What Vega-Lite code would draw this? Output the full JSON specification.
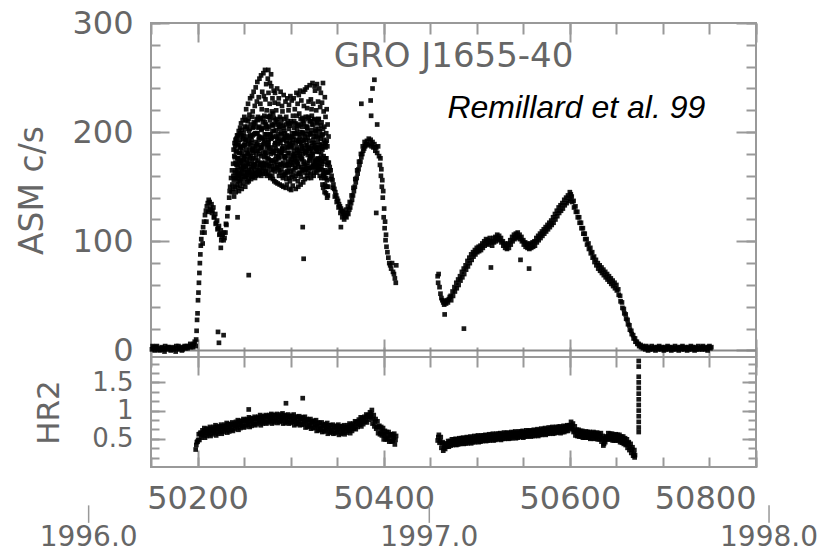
{
"$schema": "https://vega.github.io/schema/vega-lite/v6.json",
"background": "white",
"padding": {"left": 15, "top": 6, "right": 5, "bottom": 0},
"spacing": 0,
"bounds": "flush",
"datasets": {
"years": [{"label":"1996.0","mjd":50083},{"label":"1997.0","mjd":50449},{"label":"1998.0","mjd":50814}],
"asm": [
{"t":50151,"c":1},{"t":50151.7,"c":4},{"t":50152.5,"c":2},{"t":50153.2,"c":3},{"t":50154,"c":0},{"t":50155.5,"c":3},{"t":50156.3,"c":4},{"t":50157,"c":1},{"t":50158.5,"c":2},{"t":50159.2,"c":0},{"t":50160,"c":1},{"t":50161.5,"c":3},{"t":50162.2,"c":1},{"t":50163,"c":2},{"t":50164.5,"c":-1},{"t":50165.2,"c":4},{"t":50166,"c":2},{"t":50167.5,"c":1},{"t":50168.2,"c":3},{"t":50169,"c":3},{"t":50170.5,"c":2},{"t":50171.2,"c":0},{"t":50172,"c":1},{"t":50173.5,"c":3},{"t":50174.2,"c":1},{"t":50175,"c":2},{"t":50176.5,"c":-1},{"t":50177.2,"c":4},{"t":50178,"c":2},{"t":50179.5,"c":4},{"t":50180.2,"c":1},{"t":50181,"c":2},{"t":50182.5,"c":3},{"t":50183.2,"c":0},{"t":50184,"c":1},{"t":50185.5,"c":3},{"t":50186.2,"c":4},{"t":50187,"c":2},{"t":50188.5,"c":4},{"t":50189.2,"c":2},{"t":50190,"c":3},{"t":50191.5,"c":4},{"t":50192.2,"c":6},{"t":50193,"c":3},{"t":50194.5,"c":5},{"t":50195.2,"c":3},{"t":50196,"c":6},{"t":50197,"c":8},
{"t":50198,"c":4},{"t":50198.5,"c":10},{"t":50199,"c":18},{"t":50199.5,"c":28},{"t":50200,"c":34},{"t":50200.5,"c":46},{"t":50201,"c":53},{"t":50201.5,"c":62},{"t":50202,"c":71},{"t":50202.5,"c":80},{"t":50203,"c":88},{"t":50203.5,"c":96},{"t":50204,"c":102},{"t":50205,"c":108},{"t":50205.5,"c":98},{"t":50206,"c":113},{"t":50207,"c":118},{"t":50207.5,"c":108},{"t":50208,"c":124},{"t":50209,"c":128},{"t":50209.5,"c":118},{"t":50210,"c":132},{"t":50211,"c":135},{"t":50211.5,"c":127},{"t":50212,"c":138},{"t":50213,"c":136},{"t":50213.5,"c":129},{"t":50214,"c":130},{"t":50215,"c":134},{"t":50215.5,"c":126},{"t":50216,"c":128},{"t":50217,"c":131},{"t":50217.5,"c":122},{"t":50218,"c":122},{"t":50219,"c":125},{"t":50219.5,"c":116},{"t":50220,"c":117},{"t":50221,"c":119},{"t":50221.5,"c":111},{"t":50222,"c":112},{"t":50223,"c":114},{"t":50223.5,"c":106},{"t":50224,"c":107},{"t":50225,"c":110},{"t":50225.5,"c":101},{"t":50226,"c":104},{"t":50227,"c":106},{"t":50228,"c":101},{"t":50228.5,"c":108},{"t":50229,"c":103},{"t":50230,"c":108},{"t":50230.5,"c":116},{"t":50231,"c":115},{"t":50232,"c":123},{"t":50232.5,"c":130},{"t":50233,"c":131},{"t":50234,"c":140},{"t":50234.5,"c":146},{"t":50235,"c":150},{"t":50236,"c":158},{"t":50236.5,"c":145},{"t":50237,"c":165},{"t":50237.5,"c":152},
{"t":50222,"c":17},{"t":50228,"c":14},{"t":50223,"c":7},{"t":50225,"c":94},{"t":50243,"c":122},{"t":50255,"c":69},{"t":50313,"c":113},{"t":50314,"c":84},{"t":50354,"c":113},{"t":50276,"c":257},{"t":50279,"c":253},
{"t":50238,"c":148},{"t":50238.25,"c":171},{"t":50238.5,"c":160},{"t":50238.75,"c":184},
{"t":50239,"c":156},{"t":50239.25,"c":141},{"t":50239.5,"c":178},{"t":50239.75,"c":190},
{"t":50240,"c":163},{"t":50240.25,"c":150},{"t":50240.5,"c":187},{"t":50240.75,"c":172},
{"t":50241,"c":145},{"t":50241.25,"c":182},{"t":50241.5,"c":158},{"t":50241.75,"c":194},
{"t":50242,"c":170},{"t":50242.25,"c":152},{"t":50242.5,"c":197},{"t":50242.75,"c":165},
{"t":50243,"c":149},{"t":50243.25,"c":188},{"t":50243.5,"c":176},{"t":50243.75,"c":160},
{"t":50244,"c":158},{"t":50244.25,"c":201},{"t":50244.5,"c":146},{"t":50244.75,"c":181},
{"t":50245,"c":175},{"t":50245.25,"c":155},{"t":50245.5,"c":193},{"t":50245.75,"c":204},
{"t":50246,"c":151},{"t":50246.25,"c":186},{"t":50246.5,"c":167},{"t":50246.75,"c":208},
{"t":50247,"c":162},{"t":50247.25,"c":197},{"t":50247.5,"c":148},{"t":50247.75,"c":179},
{"t":50248,"c":183},{"t":50248.25,"c":159},{"t":50248.5,"c":211},{"t":50248.75,"c":170},
{"t":50249,"c":153},{"t":50249.25,"c":174},{"t":50249.5,"c":199},{"t":50249.75,"c":188},
{"t":50250,"c":166},{"t":50250.25,"c":214},{"t":50250.5,"c":157},{"t":50250.75,"c":192},
{"t":50251,"c":178},{"t":50251.25,"c":150},{"t":50251.5,"c":203},{"t":50251.75,"c":169},
{"t":50252,"c":159},{"t":50252.25,"c":221},{"t":50252.5,"c":184},{"t":50252.75,"c":172},
{"t":50253,"c":196},{"t":50253.25,"c":163},{"t":50253.5,"c":154},{"t":50253.75,"c":210},
{"t":50254,"c":171},{"t":50254.25,"c":226},{"t":50254.5,"c":189},{"t":50254.75,"c":158},
{"t":50255,"c":155},{"t":50255.25,"c":201},{"t":50255.5,"c":180},{"t":50255.75,"c":216},
{"t":50256,"c":184},{"t":50256.25,"c":162},{"t":50256.5,"c":231},{"t":50256.75,"c":197},
{"t":50257,"c":168},{"t":50257.25,"c":207},{"t":50257.5,"c":157},{"t":50257.75,"c":190},
{"t":50258,"c":193},{"t":50258.25,"c":174},{"t":50258.5,"c":233},{"t":50258.75,"c":160},
{"t":50259,"c":159},{"t":50259.25,"c":219},{"t":50259.5,"c":185},{"t":50259.75,"c":204},
{"t":50260,"c":176},{"t":50260.25,"c":237},{"t":50260.5,"c":162},{"t":50260.75,"c":198},
{"t":50261,"c":205},{"t":50261.25,"c":171},{"t":50261.5,"c":224},{"t":50261.75,"c":158},
{"t":50262,"c":163},{"t":50262.25,"c":191},{"t":50262.5,"c":241},{"t":50262.75,"c":180},
{"t":50263,"c":187},{"t":50263.25,"c":160},{"t":50263.5,"c":212},{"t":50263.75,"c":228},
{"t":50264,"c":172},{"t":50264.25,"c":246},{"t":50264.5,"c":199},{"t":50264.75,"c":165},
{"t":50265,"c":214},{"t":50265.25,"c":183},{"t":50265.5,"c":161},{"t":50265.75,"c":232},
{"t":50266,"c":164},{"t":50266.25,"c":205},{"t":50266.5,"c":249},{"t":50266.75,"c":188},
{"t":50267,"c":195},{"t":50267.25,"c":170},{"t":50267.5,"c":226},{"t":50267.75,"c":212},
{"t":50268,"c":178},{"t":50268.25,"c":252},{"t":50268.5,"c":160},{"t":50268.75,"c":203},
{"t":50269,"c":221},{"t":50269.25,"c":186},{"t":50269.5,"c":237},{"t":50269.75,"c":167},
{"t":50270,"c":162},{"t":50270.25,"c":209},{"t":50270.5,"c":194},{"t":50270.75,"c":254},
{"t":50271,"c":189},{"t":50271.25,"c":233},{"t":50271.5,"c":171},{"t":50271.75,"c":215},
{"t":50272,"c":170},{"t":50272.25,"c":198},{"t":50272.5,"c":257},{"t":50272.75,"c":182},
{"t":50273,"c":230},{"t":50273.25,"c":164},{"t":50273.5,"c":207},{"t":50273.75,"c":244},
{"t":50274,"c":181},{"t":50274.25,"c":220},{"t":50274.5,"c":160},{"t":50274.75,"c":196},
{"t":50275,"c":203},{"t":50275.25,"c":176},{"t":50275.5,"c":249},{"t":50275.75,"c":188},
{"t":50276,"c":162},{"t":50276.25,"c":236},{"t":50276.5,"c":193},{"t":50276.75,"c":214},
{"t":50277,"c":185},{"t":50277.25,"c":169},{"t":50277.5,"c":226},{"t":50277.75,"c":245},
{"t":50278,"c":211},{"t":50278.25,"c":158},{"t":50278.5,"c":198},{"t":50278.75,"c":180},
{"t":50279,"c":174},{"t":50279.25,"c":242},{"t":50279.5,"c":165},{"t":50279.75,"c":219},
{"t":50280,"c":195},{"t":50280.25,"c":160},{"t":50280.5,"c":231},{"t":50280.75,"c":206},
{"t":50281,"c":157},{"t":50281.25,"c":217},{"t":50281.5,"c":183},{"t":50281.75,"c":238},
{"t":50282,"c":201},{"t":50282.25,"c":172},{"t":50282.5,"c":155},{"t":50282.75,"c":227},
{"t":50283,"c":168},{"t":50283.25,"c":236},{"t":50283.5,"c":190},{"t":50283.75,"c":211},
{"t":50284,"c":185},{"t":50284.25,"c":154},{"t":50284.5,"c":220},{"t":50284.75,"c":173},
{"t":50285,"c":209},{"t":50285.25,"c":167},{"t":50285.5,"c":240},{"t":50285.75,"c":194},
{"t":50286,"c":153},{"t":50286.25,"c":198},{"t":50286.5,"c":178},{"t":50286.75,"c":226},
{"t":50287,"c":176},{"t":50287.25,"c":231},{"t":50287.5,"c":160},{"t":50287.75,"c":205},
{"t":50288,"c":192},{"t":50288.25,"c":152},{"t":50288.5,"c":214},{"t":50288.75,"c":183},
{"t":50289,"c":163},{"t":50289.25,"c":237},{"t":50289.5,"c":199},{"t":50289.75,"c":171},
{"t":50290,"c":208},{"t":50290.25,"c":181},{"t":50290.5,"c":151},{"t":50290.75,"c":224},
{"t":50291,"c":170},{"t":50291.25,"c":219},{"t":50291.5,"c":193},{"t":50291.75,"c":158},
{"t":50292,"c":187},{"t":50292.25,"c":150},{"t":50292.5,"c":234},{"t":50292.75,"c":204},
{"t":50293,"c":161},{"t":50293.25,"c":212},{"t":50293.5,"c":177},{"t":50293.75,"c":196},
{"t":50294,"c":199},{"t":50294.25,"c":169},{"t":50294.5,"c":228},{"t":50294.75,"c":149},
{"t":50295,"c":178},{"t":50295.25,"c":214},{"t":50295.5,"c":157},{"t":50295.75,"c":190},
{"t":50296,"c":152},{"t":50296.25,"c":197},{"t":50296.5,"c":231},{"t":50296.75,"c":171},
{"t":50297,"c":186},{"t":50297.25,"c":163},{"t":50297.5,"c":208},{"t":50297.75,"c":220},
{"t":50298,"c":167},{"t":50298.25,"c":225},{"t":50298.5,"c":181},{"t":50298.75,"c":148},
{"t":50299,"c":206},{"t":50299.25,"c":155},{"t":50299.5,"c":192},{"t":50299.75,"c":233},
{"t":50300,"c":173},{"t":50300.25,"c":210},{"t":50300.5,"c":147},{"t":50300.75,"c":188},
{"t":50301,"c":159},{"t":50301.25,"c":229},{"t":50301.5,"c":196},{"t":50301.75,"c":170},
{"t":50302,"c":190},{"t":50302.25,"c":151},{"t":50302.5,"c":215},{"t":50302.75,"c":179},
{"t":50303,"c":165},{"t":50303.25,"c":231},{"t":50303.5,"c":183},{"t":50303.75,"c":204},
{"t":50304,"c":199},{"t":50304.25,"c":157},{"t":50304.5,"c":221},{"t":50304.75,"c":174},
{"t":50305,"c":178},{"t":50305.25,"c":208},{"t":50305.5,"c":148},{"t":50305.75,"c":193},
{"t":50306,"c":160},{"t":50306.25,"c":236},{"t":50306.5,"c":186},{"t":50306.75,"c":215},
{"t":50307,"c":203},{"t":50307.25,"c":172},{"t":50307.5,"c":226},{"t":50307.75,"c":155},
{"t":50308,"c":181},{"t":50308.25,"c":150},{"t":50308.5,"c":198},{"t":50308.75,"c":234},
{"t":50309,"c":168},{"t":50309.25,"c":217},{"t":50309.5,"c":162},{"t":50309.75,"c":191},
{"t":50310,"c":196},{"t":50310.25,"c":238},{"t":50310.5,"c":176},{"t":50310.75,"c":152},
{"t":50311,"c":159},{"t":50311.25,"c":207},{"t":50311.5,"c":229},{"t":50311.75,"c":185},
{"t":50312,"c":187},{"t":50312.25,"c":165},{"t":50312.5,"c":213},{"t":50312.75,"c":200},
{"t":50313,"c":210},{"t":50313.25,"c":180},{"t":50313.5,"c":154},{"t":50313.75,"c":237},
{"t":50314,"c":171},{"t":50314.25,"c":224},{"t":50314.5,"c":192},{"t":50314.75,"c":163},
{"t":50315,"c":198},{"t":50315.25,"c":157},{"t":50315.5,"c":239},{"t":50315.75,"c":182},
{"t":50316,"c":166},{"t":50316.25,"c":214},{"t":50316.5,"c":188},{"t":50316.75,"c":205},
{"t":50317,"c":183},{"t":50317.25,"c":241},{"t":50317.5,"c":160},{"t":50317.75,"c":222},
{"t":50318,"c":204},{"t":50318.25,"c":172},{"t":50318.5,"c":195},{"t":50318.75,"c":158},
{"t":50319,"c":163},{"t":50319.25,"c":228},{"t":50319.5,"c":185},{"t":50319.75,"c":213},
{"t":50320,"c":192},{"t":50320.25,"c":167},{"t":50320.5,"c":243},{"t":50320.75,"c":178},
{"t":50321,"c":176},{"t":50321.25,"c":210},{"t":50321.5,"c":162},{"t":50321.75,"c":230},
{"t":50322,"c":158},{"t":50322.25,"c":199},{"t":50322.5,"c":221},{"t":50322.75,"c":187},
{"t":50323,"c":207},{"t":50323.25,"c":181},{"t":50323.5,"c":245},{"t":50323.75,"c":169},
{"t":50324,"c":172},{"t":50324.25,"c":226},{"t":50324.5,"c":193},{"t":50324.75,"c":160},
{"t":50325,"c":190},{"t":50325.25,"c":163},{"t":50325.5,"c":212},{"t":50325.75,"c":242},
{"t":50326,"c":168},{"t":50326.25,"c":238},{"t":50326.5,"c":186},{"t":50326.75,"c":201},
{"t":50327,"c":199},{"t":50327.25,"c":174},{"t":50327.5,"c":220},{"t":50327.75,"c":163},
{"t":50328,"c":182},{"t":50328.25,"c":244},{"t":50328.5,"c":170},{"t":50328.75,"c":208},
{"t":50329,"c":165},{"t":50329.25,"c":191},{"t":50329.5,"c":228},{"t":50329.75,"c":176},
{"t":50330,"c":186},{"t":50330.25,"c":212},{"t":50330.5,"c":168},{"t":50330.75,"c":240},
{"t":50331,"c":175},{"t":50331.25,"c":160},{"t":50331.5,"c":201},{"t":50331.75,"c":223},
{"t":50332,"c":166},{"t":50332.25,"c":194},{"t":50332.5,"c":236},{"t":50332.75,"c":180},
{"t":50333,"c":158},{"t":50333.25,"c":209},{"t":50333.5,"c":174},{"t":50333.75,"c":227},
{"t":50334,"c":171},{"t":50334.25,"c":152},{"t":50334.5,"c":198},{"t":50334.75,"c":245},
{"t":50335,"c":149},{"t":50335.25,"c":187},{"t":50335.5,"c":219},{"t":50335.75,"c":162},
{"t":50336,"c":160},{"t":50336.25,"c":205},{"t":50336.5,"c":145},{"t":50336.75,"c":232},
{"t":50337,"c":152},{"t":50337.25,"c":176},{"t":50337.5,"c":214},{"t":50337.75,"c":190},
{"t":50338,"c":144},{"t":50338.25,"c":199},{"t":50338.5,"c":163},{"t":50338.75,"c":221},
{"t":50339,"c":156},{"t":50339.25,"c":140},{"t":50339.5,"c":187},{"t":50339.75,"c":207},
{"t":50340,"c":142},{"t":50340.25,"c":172},{"t":50340.5,"c":150},{"t":50340.75,"c":196},
{"t":50240.12,"c":177},{"t":50240.45,"c":158},{"t":50240.8,"c":193},
{"t":50241.12,"c":165},{"t":50241.45,"c":189},{"t":50241.8,"c":171},
{"t":50242.12,"c":183},{"t":50242.45,"c":161},{"t":50242.8,"c":176},
{"t":50243.12,"c":168},{"t":50243.45,"c":197},{"t":50243.8,"c":155},
{"t":50244.12,"c":190},{"t":50244.45,"c":172},{"t":50244.8,"c":163},
{"t":50245.12,"c":161},{"t":50245.45,"c":181},{"t":50245.8,"c":199},
{"t":50246.12,"c":186},{"t":50246.45,"c":157},{"t":50246.8,"c":174},
{"t":50247.12,"c":171},{"t":50247.45,"c":202},{"t":50247.8,"c":166},
{"t":50248.12,"c":163},{"t":50248.45,"c":187},{"t":50248.8,"c":196},
{"t":50249.12,"c":194},{"t":50249.45,"c":168},{"t":50249.8,"c":178},
{"t":50250.12,"c":175},{"t":50250.45,"c":160},{"t":50250.8,"c":205},
{"t":50251.12,"c":188},{"t":50251.45,"c":211},{"t":50251.8,"c":163},
{"t":50252.12,"c":168},{"t":50252.45,"c":193},{"t":50252.8,"c":181},
{"t":50253.12,"c":205},{"t":50253.45,"c":175},{"t":50253.8,"c":161},
{"t":50254.12,"c":180},{"t":50254.45,"c":164},{"t":50254.8,"c":212},
{"t":50255.12,"c":165},{"t":50255.45,"c":192},{"t":50255.8,"c":176},
{"t":50256.12,"c":203},{"t":50256.45,"c":171},{"t":50256.8,"c":188},
{"t":50257.12,"c":178},{"t":50257.45,"c":196},{"t":50257.8,"c":163},
{"t":50258.12,"c":166},{"t":50258.45,"c":184},{"t":50258.8,"c":214},
{"t":50259.12,"c":197},{"t":50259.45,"c":170},{"t":50259.8,"c":181},
{"t":50260.12,"c":183},{"t":50260.45,"c":209},{"t":50260.8,"c":167},
{"t":50261.12,"c":170},{"t":50261.45,"c":187},{"t":50261.8,"c":199},
{"t":50262.12,"c":208},{"t":50262.45,"c":176},{"t":50262.8,"c":163},
{"t":50263.12,"c":168},{"t":50263.45,"c":199},{"t":50263.8,"c":183},
{"t":50264.12,"c":189},{"t":50264.45,"c":162},{"t":50264.8,"c":211},
{"t":50265.12,"c":174},{"t":50265.45,"c":204},{"t":50265.8,"c":193},
{"t":50266.12,"c":196},{"t":50266.45,"c":180},{"t":50266.8,"c":168},
{"t":50267.12,"c":163},{"t":50267.45,"c":213},{"t":50267.8,"c":185},
{"t":50268.12,"c":186},{"t":50268.45,"c":171},{"t":50268.8,"c":202},
{"t":50269.12,"c":172},{"t":50269.45,"c":195},{"t":50269.8,"c":164},
{"t":50270.12,"c":204},{"t":50270.45,"c":181},{"t":50270.8,"c":213},
{"t":50271.12,"c":167},{"t":50271.45,"c":190},{"t":50271.8,"c":177},
{"t":50272.12,"c":193},{"t":50272.45,"c":209},{"t":50272.8,"c":172},
{"t":50273.12,"c":178},{"t":50273.45,"c":162},{"t":50273.8,"c":198},
{"t":50274.12,"c":205},{"t":50274.45,"c":186},{"t":50274.8,"c":170},
{"t":50275.12,"c":166},{"t":50275.45,"c":214},{"t":50275.8,"c":191},
{"t":50276.12,"c":189},{"t":50276.45,"c":175},{"t":50276.8,"c":205},
{"t":50277.12,"c":171},{"t":50277.45,"c":198},{"t":50277.8,"c":160},
{"t":50278.12,"c":215},{"t":50278.45,"c":182},{"t":50278.8,"c":194},
{"t":50279.12,"c":186},{"t":50279.45,"c":169},{"t":50279.8,"c":207},
{"t":50280.12,"c":174},{"t":50280.45,"c":201},{"t":50280.8,"c":182},
{"t":50281.12,"c":196},{"t":50281.45,"c":166},{"t":50281.8,"c":213},
{"t":50282.12,"c":181},{"t":50282.45,"c":207},{"t":50282.8,"c":188},
{"t":50283.12,"c":164},{"t":50283.45,"c":190},{"t":50283.8,"c":175},
{"t":50284.12,"c":202},{"t":50284.45,"c":178},{"t":50284.8,"c":196},
{"t":50285.12,"c":183},{"t":50285.45,"c":212},{"t":50285.8,"c":168},
{"t":50286.12,"c":170},{"t":50286.45,"c":189},{"t":50286.8,"c":207},
{"t":50287.12,"c":194},{"t":50287.45,"c":165},{"t":50287.8,"c":182},
{"t":50288.12,"c":177},{"t":50288.45,"c":203},{"t":50288.8,"c":170},
{"t":50289.12,"c":190},{"t":50289.45,"c":181},{"t":50289.8,"c":212},
{"t":50290.12,"c":166},{"t":50290.45,"c":198},{"t":50290.8,"c":184},
{"t":50291.12,"c":185},{"t":50291.45,"c":160},{"t":50291.8,"c":206},
{"t":50292.12,"c":172},{"t":50292.45,"c":194},{"t":50292.8,"c":178},
{"t":50293.12,"c":201},{"t":50293.45,"c":183},{"t":50293.8,"c":163},
{"t":50294.12,"c":176},{"t":50294.45,"c":161},{"t":50294.8,"c":195},
{"t":50295.12,"c":192},{"t":50295.45,"c":207},{"t":50295.8,"c":170},
{"t":50296.12,"c":164},{"t":50296.45,"c":186},{"t":50296.8,"c":210},
{"t":50297.12,"c":181},{"t":50297.45,"c":173},{"t":50297.8,"c":196},
{"t":50298.12,"c":203},{"t":50298.45,"c":158},{"t":50298.8,"c":189},
{"t":50299.12,"c":170},{"t":50299.45,"c":195},{"t":50299.8,"c":177},
{"t":50300.12,"c":187},{"t":50300.45,"c":164},{"t":50300.8,"c":208},
{"t":50301.12,"c":175},{"t":50301.45,"c":199},{"t":50301.8,"c":186},
{"t":50302.12,"c":161},{"t":50302.45,"c":193},{"t":50302.8,"c":172},
{"t":50303.12,"c":196},{"t":50303.45,"c":178},{"t":50303.8,"c":210},
{"t":50304.12,"c":180},{"t":50304.45,"c":168},{"t":50304.8,"c":199},
{"t":50305.12,"c":167},{"t":50305.45,"c":190},{"t":50305.8,"c":176},
{"t":50306.12,"c":199},{"t":50306.45,"c":173},{"t":50306.8,"c":207},
{"t":50307.12,"c":184},{"t":50307.45,"c":162},{"t":50307.8,"c":192},
{"t":50308.12,"c":171},{"t":50308.45,"c":206},{"t":50308.8,"c":183},
{"t":50309.12,"c":193},{"t":50309.45,"c":180},{"t":50309.8,"c":163},
{"t":50310.12,"c":178},{"t":50310.45,"c":200},{"t":50310.8,"c":212},
{"t":50311.12,"c":168},{"t":50311.45,"c":189},{"t":50311.8,"c":176},
{"t":50312.12,"c":205},{"t":50312.45,"c":175},{"t":50312.8,"c":193},
{"t":50313.12,"c":183},{"t":50313.45,"c":199},{"t":50313.8,"c":166},
{"t":50314.12,"c":173},{"t":50314.45,"c":208},{"t":50314.8,"c":185},
{"t":50315.12,"c":196},{"t":50315.45,"c":170},{"t":50315.8,"c":212},
{"t":50316.12,"c":181},{"t":50316.45,"c":193},{"t":50316.8,"c":166},
{"t":50317.12,"c":169},{"t":50317.45,"c":205},{"t":50317.8,"c":188},
{"t":50318.12,"c":201},{"t":50318.45,"c":179},{"t":50318.8,"c":214},
{"t":50319.12,"c":186},{"t":50319.45,"c":167},{"t":50319.8,"c":198},
{"t":50320.12,"c":174},{"t":50320.45,"c":210},{"t":50320.8,"c":183},
{"t":50321.12,"c":198},{"t":50321.45,"c":185},{"t":50321.8,"c":168},
{"t":50322.12,"c":178},{"t":50322.45,"c":202},{"t":50322.8,"c":215},
{"t":50323.12,"c":167},{"t":50323.45,"c":190},{"t":50323.8,"c":180},
{"t":50324.12,"c":207},{"t":50324.45,"c":176},{"t":50324.8,"c":196},
{"t":50325.12,"c":185},{"t":50325.45,"c":211},{"t":50325.8,"c":170},
{"t":50326.12,"c":173},{"t":50326.45,"c":188},{"t":50326.8,"c":203},
{"t":50327.12,"c":196},{"t":50327.45,"c":167},{"t":50327.8,"c":185},
{"t":50328.12,"c":183},{"t":50328.45,"c":209},{"t":50328.8,"c":175},
{"t":50329.12,"c":172},{"t":50329.45,"c":195},{"t":50329.8,"c":212},
{"t":50330.12,"c":203},{"t":50330.45,"c":182},{"t":50330.8,"c":166},
{"t":50331.12,"c":188},{"t":50331.45,"c":171},{"t":50331.8,"c":197},
{"t":50332.12,"c":176},{"t":50332.45,"c":206},{"t":50332.8,"c":185},
{"t":50333.12,"c":168},{"t":50333.45,"c":189},{"t":50333.8,"c":197},
{"t":50334.12,"c":184},{"t":50334.45,"c":165},{"t":50334.8,"c":203},
{"t":50335.12,"c":161},{"t":50335.45,"c":178},{"t":50335.8,"c":193},
{"t":50336.12,"c":173},{"t":50336.45,"c":158},{"t":50336.8,"c":190},
{"t":50337.12,"c":165},{"t":50337.45,"c":186},{"t":50337.8,"c":150},
{"t":50338.12,"c":158},{"t":50338.45,"c":176},{"t":50338.8,"c":192},
{"t":50339.12,"c":150},{"t":50339.45,"c":170},{"t":50339.8,"c":163},
{"t":50341,"c":172},{"t":50341.5,"c":164},{"t":50342,"c":168},{"t":50343,"c":165},{"t":50343.5,"c":157},{"t":50344,"c":160},{"t":50345,"c":156},{"t":50345.5,"c":149},{"t":50346,"c":152},{"t":50347,"c":148},{"t":50347.5,"c":141},{"t":50348,"c":145},{"t":50349,"c":142},{"t":50349.5,"c":136},{"t":50350,"c":139},{"t":50351,"c":137},{"t":50351.5,"c":131},{"t":50352,"c":134},{"t":50353,"c":132},{"t":50353.5,"c":126},{"t":50354,"c":130},{"t":50355,"c":128},{"t":50355.5,"c":122},{"t":50356,"c":127},{"t":50357,"c":125},{"t":50357.5,"c":120},{"t":50358,"c":124},{"t":50359,"c":123},{"t":50359.5,"c":129},{"t":50360,"c":122},{"t":50361,"c":126},{"t":50361.5,"c":132},{"t":50362,"c":125},{"t":50363,"c":129},{"t":50363.5,"c":136},{"t":50364,"c":131},{"t":50365,"c":135},{"t":50365.5,"c":142},{"t":50366,"c":138},{"t":50367,"c":142},{"t":50367.5,"c":149},{"t":50368,"c":146},{"t":50369,"c":150},{"t":50369.5,"c":157},{"t":50370,"c":154},{"t":50371,"c":158},{"t":50371.5,"c":165},{"t":50372,"c":162},{"t":50373,"c":166},{"t":50373.5,"c":173},{"t":50374,"c":170},{"t":50375,"c":173},{"t":50375.5,"c":180},{"t":50376,"c":177},{"t":50377,"c":180},{"t":50377.5,"c":187},{"t":50378,"c":183},{"t":50379,"c":185},{"t":50379.5,"c":191},{"t":50380,"c":187},{"t":50381,"c":189},{"t":50382,"c":192},{"t":50383,"c":188},{"t":50384,"c":194},{"t":50385,"c":189},{"t":50386,"c":193},{"t":50387,"c":187},{"t":50388,"c":191},{"t":50389,"c":186},{"t":50390,"c":189},{"t":50391,"c":183},{"t":50392,"c":186},{"t":50393,"c":181},{"t":50394,"c":187},{"t":50395,"c":178},{"t":50396,"c":170},{"t":50396.5,"c":176},{"t":50397,"c":160},{"t":50397.5,"c":166},{"t":50398,"c":150},{"t":50398.5,"c":156},{"t":50399,"c":140},{"t":50399.5,"c":146},{"t":50400,"c":122},{"t":50400.5,"c":130},{"t":50401,"c":112},{"t":50401.5,"c":118},{"t":50402,"c":101},{"t":50402.5,"c":106},{"t":50403,"c":95},{"t":50404,"c":90},{"t":50405,"c":85},{"t":50406,"c":80},{"t":50407,"c":78},{"t":50408,"c":75},{"t":50409,"c":80},{"t":50410,"c":72},{"t":50411,"c":70},{"t":50412,"c":66},{"t":50413,"c":62},{"t":50413.5,"c":78},
{"t":50376,"c":226},{"t":50386,"c":229},{"t":50386.5,"c":215},{"t":50388,"c":240},{"t":50390,"c":248},{"t":50392,"c":126},{"t":50393,"c":207},
{"t":50458,"c":68},{"t":50458.5,"c":62},{"t":50459,"c":70},{"t":50460,"c":58},{"t":50461,"c":52},{"t":50462,"c":48},{"t":50463,"c":46},{"t":50464,"c":44},{"t":50465,"c":42},{"t":50465.5,"c":33},{"t":50466,"c":45},{"t":50467,"c":43},{"t":50468,"c":46},{"t":50469,"c":44},{"t":50470,"c":47},{"t":50471,"c":49},{"t":50472,"c":50},{"t":50472.5,"c":46},{"t":50474,"c":54},{"t":50474.5,"c":50},{"t":50476,"c":58},{"t":50476.5,"c":54},{"t":50478,"c":62},{"t":50478.5,"c":57},{"t":50480,"c":65},{"t":50480.5,"c":60},{"t":50482,"c":68},{"t":50482.5,"c":64},{"t":50484,"c":72},{"t":50484.5,"c":67},{"t":50486,"c":75},{"t":50486.5,"c":70},{"t":50486.2,"c":20},{"t":50488,"c":78},{"t":50488.5,"c":74},{"t":50490,"c":82},{"t":50490.5,"c":77},{"t":50492,"c":85},{"t":50492.5,"c":80},{"t":50494,"c":88},{"t":50494.5,"c":83},{"t":50496,"c":90},{"t":50496.5,"c":86},{"t":50498,"c":92},{"t":50498.5,"c":88},{"t":50500,"c":94},{"t":50500.5,"c":90},{"t":50502,"c":95},{"t":50502.5,"c":91},{"t":50504,"c":96},{"t":50504.5,"c":92},{"t":50506,"c":98},{"t":50506.5,"c":94},{"t":50508,"c":100},{"t":50508.5,"c":96},{"t":50510,"c":102},{"t":50510.5,"c":98},{"t":50512,"c":101},{"t":50512.5,"c":97},{"t":50514,"c":103},{"t":50514.5,"c":99},{"t":50515.2,"c":76},{"t":50516,"c":100},{"t":50516.5,"c":96},{"t":50518,"c":103},{"t":50518.5,"c":99},{"t":50520,"c":104},{"t":50520.5,"c":100},{"t":50522,"c":106},{"t":50522.5,"c":102},{"t":50524,"c":105},{"t":50524.5,"c":101},{"t":50526,"c":103},{"t":50526.5,"c":99},{"t":50528,"c":100},{"t":50528.5,"c":96},{"t":50530,"c":98},{"t":50530.5,"c":94},{"t":50532,"c":97},{"t":50532.5,"c":93},{"t":50534,"c":98},{"t":50534.5,"c":94},{"t":50536,"c":101},{"t":50536.5,"c":97},{"t":50538,"c":104},{"t":50538.5,"c":100},{"t":50540,"c":106},{"t":50540.5,"c":102},{"t":50542,"c":107},{"t":50542.5,"c":103},{"t":50544,"c":108},{"t":50544.5,"c":104},{"t":50547,"c":83},{"t":50546,"c":106},{"t":50546.5,"c":102},{"t":50548,"c":104},{"t":50548.5,"c":100},{"t":50550,"c":101},{"t":50550.5,"c":97},{"t":50552,"c":99},{"t":50552.5,"c":95},{"t":50554,"c":98},{"t":50554.5,"c":94},{"t":50556.2,"c":75},{"t":50556,"c":97},{"t":50556.5,"c":93},{"t":50558,"c":98},{"t":50558.5,"c":94},{"t":50560,"c":99},{"t":50560.5,"c":95},{"t":50562,"c":100},{"t":50562.5,"c":96},{"t":50564,"c":103},{"t":50564.5,"c":99},{"t":50566,"c":105},{"t":50566.5,"c":101},{"t":50568,"c":107},{"t":50568.5,"c":103},{"t":50570,"c":109},{"t":50570.5,"c":105},{"t":50572,"c":111},{"t":50572.5,"c":107},{"t":50574,"c":113},{"t":50574.5,"c":109},{"t":50576,"c":115},{"t":50576.5,"c":111},{"t":50578,"c":117},{"t":50578.5,"c":113},{"t":50580,"c":119},{"t":50580.5,"c":115},{"t":50582,"c":122},{"t":50582.5,"c":117},{"t":50584,"c":125},{"t":50584.5,"c":120},{"t":50586,"c":128},{"t":50586.5,"c":123},{"t":50588,"c":131},{"t":50588.5,"c":126},{"t":50590,"c":133},{"t":50590.5,"c":128},{"t":50592,"c":135},{"t":50592.5,"c":130},{"t":50594,"c":138},{"t":50594.5,"c":133},{"t":50596,"c":140},{"t":50596.5,"c":135},{"t":50598,"c":142},{"t":50598.5,"c":137},{"t":50600,"c":145},{"t":50600.5,"c":139},{"t":50601,"c":143},{"t":50602,"c":141},{"t":50602.5,"c":136},{"t":50604,"c":137},{"t":50604.5,"c":131},{"t":50606,"c":132},{"t":50606.5,"c":127},{"t":50608,"c":127},{"t":50608.5,"c":122},{"t":50610,"c":122},{"t":50610.5,"c":117},{"t":50612,"c":117},{"t":50612.5,"c":112},{"t":50614,"c":112},{"t":50614.5,"c":107},{"t":50616,"c":107},{"t":50616.5,"c":102},{"t":50618,"c":102},{"t":50618.5,"c":97},{"t":50620,"c":98},{"t":50620.5,"c":93},{"t":50622,"c":94},{"t":50622.5,"c":89},{"t":50624,"c":90},{"t":50624.5,"c":85},{"t":50626,"c":86},{"t":50626.5,"c":81},{"t":50628,"c":83},{"t":50628.5,"c":78},{"t":50630,"c":80},{"t":50630.5,"c":75},{"t":50632,"c":78},{"t":50632.5,"c":73},{"t":50634,"c":76},{"t":50634.5,"c":71},{"t":50636,"c":74},{"t":50636.5,"c":69},{"t":50638,"c":72},{"t":50638.5,"c":67},{"t":50640,"c":70},{"t":50640.5,"c":65},{"t":50642,"c":68},{"t":50642.5,"c":63},{"t":50644,"c":66},{"t":50644.5,"c":61},{"t":50646,"c":64},{"t":50646.5,"c":59},{"t":50648,"c":62},{"t":50648.5,"c":57},{"t":50650,"c":60},{"t":50650.5,"c":55},{"t":50652,"c":56},{"t":50652.5,"c":51},{"t":50654,"c":50},{"t":50654.5,"c":45},{"t":50656,"c":44},{"t":50656.5,"c":39},{"t":50658,"c":38},{"t":50658.5,"c":34},{"t":50660,"c":33},{"t":50660.5,"c":29},{"t":50662,"c":28},{"t":50662.5,"c":24},{"t":50664,"c":23},{"t":50664.5,"c":19},{"t":50666,"c":18},{"t":50666.5,"c":15},{"t":50668,"c":14},{"t":50668.5,"c":11},{"t":50670,"c":11},{"t":50670.5,"c":8},{"t":50672,"c":8},{"t":50672.5,"c":6},{"t":50674,"c":6},{"t":50674.5,"c":4},{"t":50676,"c":5},{"t":50676.5,"c":3},{"t":50678,"c":4},{"t":50678.5,"c":2},
{"t":50680,"c":3},{"t":50681,"c":1},{"t":50682,"c":4},{"t":50683,"c":2},{"t":50684,"c":0},{"t":50685,"c":3},{"t":50686,"c":1},{"t":50687,"c":2},{"t":50688,"c":4},{"t":50689,"c":1},{"t":50690,"c":2},{"t":50691,"c":3},{"t":50692,"c":0},{"t":50693,"c":2},{"t":50694,"c":3},{"t":50695,"c":1},{"t":50696,"c":4},{"t":50697,"c":2},{"t":50698,"c":1},{"t":50699,"c":3},{"t":50700,"c":2},{"t":50701,"c":0},{"t":50702,"c":3},{"t":50703,"c":1},{"t":50704,"c":2},{"t":50705,"c":4},{"t":50706,"c":1},{"t":50707,"c":3},{"t":50708,"c":2},{"t":50709,"c":0},{"t":50710,"c":3},{"t":50711,"c":1},{"t":50712,"c":2},{"t":50713,"c":4},{"t":50714,"c":1},{"t":50715,"c":2},{"t":50716,"c":3},{"t":50717,"c":0},{"t":50718,"c":2},{"t":50719,"c":3},{"t":50720,"c":1},{"t":50721,"c":4},{"t":50722,"c":2},{"t":50723,"c":1},{"t":50724,"c":3},{"t":50725,"c":2},{"t":50726,"c":0},{"t":50727,"c":3},{"t":50728,"c":1},{"t":50729,"c":2},{"t":50730,"c":4},{"t":50731,"c":1},{"t":50732,"c":3},{"t":50733,"c":2},{"t":50734,"c":0},{"t":50735,"c":3},{"t":50736,"c":1},{"t":50737,"c":2},{"t":50738,"c":4},{"t":50739,"c":1},{"t":50740,"c":2},{"t":50741,"c":3},{"t":50742,"c":1},{"t":50743,"c":4},{"t":50744,"c":2},{"t":50745,"c":1},{"t":50746,"c":3},{"t":50747,"c":2},{"t":50748,"c":0},{"t":50749,"c":3},{"t":50750,"c":4},{"t":50751,"c":2},{"t":50752,"c":3}
],
"hr": [
{"t":50198,"h":0.31},{"t":50198.7,"h":0.39},{"t":50199.3,"h":0.44},
{"t":50200,"h":0.45},{"t":50200.7,"h":0.48},{"t":50201.3,"h":0.58},
{"t":50202,"h":0.48},{"t":50202.7,"h":0.59},{"t":50203.3,"h":0.61},
{"t":50204,"h":0.52},{"t":50204.7,"h":0.58},{"t":50205.3,"h":0.65},
{"t":50206,"h":0.56},{"t":50206.7,"h":0.62},{"t":50207.3,"h":0.69},
{"t":50208,"h":0.52},{"t":50208.7,"h":0.6},{"t":50209.3,"h":0.67},
{"t":50210,"h":0.55},{"t":50210.7,"h":0.63},{"t":50211.3,"h":0.68},
{"t":50212,"h":0.58},{"t":50212.7,"h":0.61},{"t":50213.3,"h":0.71},
{"t":50214,"h":0.55},{"t":50214.7,"h":0.66},{"t":50215.3,"h":0.68},
{"t":50216,"h":0.58},{"t":50216.7,"h":0.64},{"t":50217.3,"h":0.71},
{"t":50218,"h":0.61},{"t":50218.7,"h":0.67},{"t":50219.3,"h":0.74},
{"t":50220,"h":0.56},{"t":50220.7,"h":0.64},{"t":50221.3,"h":0.71},
{"t":50222,"h":0.59},{"t":50222.7,"h":0.67},{"t":50223.3,"h":0.72},
{"t":50224,"h":0.62},{"t":50224.7,"h":0.65},{"t":50225.3,"h":0.75},
{"t":50226,"h":0.59},{"t":50226.7,"h":0.7},{"t":50227.3,"h":0.72},
{"t":50228,"h":0.62},{"t":50228.7,"h":0.68},{"t":50229.3,"h":0.75},
{"t":50230,"h":0.65},{"t":50230.7,"h":0.71},{"t":50231.3,"h":0.78},
{"t":50232,"h":0.61},{"t":50232.7,"h":0.69},{"t":50233.3,"h":0.76},
{"t":50234,"h":0.63},{"t":50234.7,"h":0.71},{"t":50235.3,"h":0.76},
{"t":50236,"h":0.66},{"t":50236.7,"h":0.69},{"t":50237.3,"h":0.79},
{"t":50238,"h":0.64},{"t":50238.7,"h":0.75},{"t":50239.3,"h":0.77},
{"t":50240,"h":0.67},{"t":50240.7,"h":0.73},{"t":50241.3,"h":0.8},
{"t":50242,"h":0.7},{"t":50242.7,"h":0.76},{"t":50243.3,"h":0.83},
{"t":50244,"h":0.66},{"t":50244.7,"h":0.74},{"t":50245.3,"h":0.81},
{"t":50246,"h":0.69},{"t":50246.7,"h":0.77},{"t":50247.3,"h":0.82},
{"t":50248,"h":0.72},{"t":50248.7,"h":0.75},{"t":50249.3,"h":0.85},
{"t":50250,"h":0.7},{"t":50250.7,"h":0.81},{"t":50251.3,"h":0.83},
{"t":50252,"h":0.72},{"t":50252.7,"h":0.78},{"t":50253.3,"h":0.85},
{"t":50254,"h":0.75},{"t":50254.7,"h":0.81},{"t":50255.3,"h":0.88},
{"t":50256,"h":0.71},{"t":50256.7,"h":0.79},{"t":50257.3,"h":0.86},
{"t":50258,"h":0.73},{"t":50258.7,"h":0.81},{"t":50259.3,"h":0.86},
{"t":50260,"h":0.76},{"t":50260.7,"h":0.79},{"t":50261.3,"h":0.89},
{"t":50262,"h":0.74},{"t":50262.7,"h":0.85},{"t":50263.3,"h":0.87},
{"t":50264,"h":0.76},{"t":50264.7,"h":0.82},{"t":50265.3,"h":0.89},
{"t":50266,"h":0.79},{"t":50266.7,"h":0.85},{"t":50267.3,"h":0.92},
{"t":50268,"h":0.74},{"t":50268.7,"h":0.82},{"t":50269.3,"h":0.89},
{"t":50270,"h":0.77},{"t":50270.7,"h":0.85},{"t":50271.3,"h":0.9},
{"t":50272,"h":0.79},{"t":50272.7,"h":0.82},{"t":50273.3,"h":0.92},
{"t":50274,"h":0.77},{"t":50274.7,"h":0.88},{"t":50275.3,"h":0.9},
{"t":50276,"h":0.79},{"t":50276.7,"h":0.85},{"t":50277.3,"h":0.92},
{"t":50278,"h":0.81},{"t":50278.7,"h":0.87},{"t":50279.3,"h":0.94},
{"t":50280,"h":0.77},{"t":50280.7,"h":0.85},{"t":50281.3,"h":0.92},
{"t":50282,"h":0.79},{"t":50282.7,"h":0.87},{"t":50283.3,"h":0.92},
{"t":50284,"h":0.81},{"t":50284.7,"h":0.84},{"t":50285.3,"h":0.94},
{"t":50286,"h":0.78},{"t":50286.7,"h":0.89},{"t":50287.3,"h":0.91},
{"t":50288,"h":0.8},{"t":50288.7,"h":0.86},{"t":50289.3,"h":0.93},
{"t":50290,"h":0.82},{"t":50290.7,"h":0.88},{"t":50291.3,"h":0.95},
{"t":50292,"h":0.77},{"t":50292.7,"h":0.85},{"t":50293.3,"h":0.92},
{"t":50294,"h":0.78},{"t":50294.7,"h":0.86},{"t":50295.3,"h":0.91},
{"t":50296,"h":0.8},{"t":50296.7,"h":0.83},{"t":50297.3,"h":0.93},
{"t":50298,"h":0.77},{"t":50298.7,"h":0.88},{"t":50299.3,"h":0.9},
{"t":50300,"h":0.78},{"t":50300.7,"h":0.84},{"t":50301.3,"h":0.91},
{"t":50302,"h":0.8},{"t":50302.7,"h":0.86},{"t":50303.3,"h":0.93},
{"t":50304,"h":0.74},{"t":50304.7,"h":0.82},{"t":50305.3,"h":0.89},
{"t":50306,"h":0.76},{"t":50306.7,"h":0.84},{"t":50307.3,"h":0.89},
{"t":50308,"h":0.77},{"t":50308.7,"h":0.8},{"t":50309.3,"h":0.9},
{"t":50310,"h":0.74},{"t":50310.7,"h":0.85},{"t":50311.3,"h":0.87},
{"t":50312,"h":0.75},{"t":50312.7,"h":0.81},{"t":50313.3,"h":0.88},
{"t":50314,"h":0.76},{"t":50314.7,"h":0.82},{"t":50315.3,"h":0.89},
{"t":50316,"h":0.7},{"t":50316.7,"h":0.78},{"t":50317.3,"h":0.85},
{"t":50318,"h":0.71},{"t":50318.7,"h":0.79},{"t":50319.3,"h":0.84},
{"t":50320,"h":0.72},{"t":50320.7,"h":0.75},{"t":50321.3,"h":0.85},
{"t":50322,"h":0.68},{"t":50322.7,"h":0.79},{"t":50323.3,"h":0.81},
{"t":50324,"h":0.69},{"t":50324.7,"h":0.75},{"t":50325.3,"h":0.82},
{"t":50326,"h":0.7},{"t":50326.7,"h":0.76},{"t":50327.3,"h":0.83},
{"t":50328,"h":0.64},{"t":50328.7,"h":0.72},{"t":50329.3,"h":0.79},
{"t":50330,"h":0.65},{"t":50330.7,"h":0.73},{"t":50331.3,"h":0.78},
{"t":50332,"h":0.66},{"t":50332.7,"h":0.69},{"t":50333.3,"h":0.79},
{"t":50334,"h":0.62},{"t":50334.7,"h":0.73},{"t":50335.3,"h":0.75},
{"t":50336,"h":0.63},{"t":50336.7,"h":0.69},{"t":50337.3,"h":0.76},
{"t":50338,"h":0.65},{"t":50338.7,"h":0.71},{"t":50339.3,"h":0.78},
{"t":50340,"h":0.59},{"t":50340.7,"h":0.67},{"t":50341.3,"h":0.74},
{"t":50342,"h":0.61},{"t":50342.7,"h":0.69},{"t":50343.3,"h":0.74},
{"t":50344,"h":0.62},{"t":50344.7,"h":0.65},{"t":50345.3,"h":0.75},
{"t":50346,"h":0.59},{"t":50346.7,"h":0.7},{"t":50347.3,"h":0.72},
{"t":50348,"h":0.6},{"t":50348.7,"h":0.66},{"t":50349.3,"h":0.73},
{"t":50350,"h":0.62},{"t":50350.7,"h":0.68},{"t":50351.3,"h":0.75},
{"t":50352,"h":0.57},{"t":50352.7,"h":0.65},{"t":50353.3,"h":0.72},
{"t":50354,"h":0.59},{"t":50354.7,"h":0.67},{"t":50355.3,"h":0.72},
{"t":50356,"h":0.61},{"t":50356.7,"h":0.64},{"t":50357.3,"h":0.74},
{"t":50358,"h":0.58},{"t":50358.7,"h":0.69},{"t":50359.3,"h":0.71},
{"t":50360,"h":0.61},{"t":50360.7,"h":0.67},{"t":50361.3,"h":0.74},
{"t":50362,"h":0.64},{"t":50362.7,"h":0.7},{"t":50363.3,"h":0.77},
{"t":50364,"h":0.6},{"t":50364.7,"h":0.68},{"t":50365.3,"h":0.75},
{"t":50366,"h":0.64},{"t":50366.7,"h":0.72},{"t":50367.3,"h":0.77},
{"t":50368,"h":0.68},{"t":50368.7,"h":0.71},{"t":50369.3,"h":0.81},
{"t":50370,"h":0.67},{"t":50370.7,"h":0.78},{"t":50371.3,"h":0.8},
{"t":50372,"h":0.71},{"t":50372.7,"h":0.77},{"t":50373.3,"h":0.84},
{"t":50374,"h":0.75},{"t":50374.7,"h":0.81},{"t":50375.3,"h":0.88},
{"t":50376,"h":0.72},{"t":50376.7,"h":0.8},{"t":50377.3,"h":0.87},
{"t":50378,"h":0.76},{"t":50378.7,"h":0.84},{"t":50379.3,"h":0.89},
{"t":50380,"h":0.8},{"t":50380.7,"h":0.83},{"t":50381.3,"h":0.93},
{"t":50382,"h":0.79},{"t":50382.7,"h":0.9},{"t":50383.3,"h":0.92},
{"t":50384,"h":0.84},{"t":50384.7,"h":0.9},{"t":50385.3,"h":0.97},
{"t":50386,"h":0.88},{"t":50386.7,"h":0.94},{"t":50387.3,"h":1.01},
{"t":50388,"h":0.77},{"t":50388.7,"h":0.85},{"t":50389.3,"h":0.92},
{"t":50390,"h":0.72},{"t":50390.7,"h":0.8},{"t":50391.3,"h":0.85},
{"t":50392,"h":0.68},{"t":50392.7,"h":0.71},{"t":50393.3,"h":0.81},
{"t":50394,"h":0.6},{"t":50394.7,"h":0.71},{"t":50395.3,"h":0.73},
{"t":50396,"h":0.58},{"t":50396.7,"h":0.64},{"t":50397.3,"h":0.71},
{"t":50398,"h":0.56},{"t":50398.7,"h":0.62},{"t":50399.3,"h":0.69},
{"t":50400,"h":0.49},{"t":50400.7,"h":0.57},{"t":50401.3,"h":0.64},
{"t":50402,"h":0.49},{"t":50402.7,"h":0.57},{"t":50403.3,"h":0.62},
{"t":50404,"h":0.49},{"t":50404.7,"h":0.52},{"t":50405.3,"h":0.62},
{"t":50406,"h":0.45},{"t":50406.7,"h":0.56},{"t":50407.3,"h":0.58},
{"t":50408,"h":0.45},{"t":50408.7,"h":0.51},{"t":50409.3,"h":0.58},
{"t":50410,"h":0.46},{"t":50410.7,"h":0.52},{"t":50411.3,"h":0.59},
{"t":50412,"h":0.4},{"t":50412.7,"h":0.48},{"t":50413.3,"h":0.55},
{"t":50255,"h":1.02},{"t":50295,"h":1.13},{"t":50313,"h":1.22},
{"t":50458,"h":0.47},{"t":50458.7,"h":0.53},{"t":50459.3,"h":0.57},
{"t":50460,"h":0.43},{"t":50460.7,"h":0.46},{"t":50461.3,"h":0.53},
{"t":50462,"h":0.34},{"t":50462.7,"h":0.42},{"t":50463.3,"h":0.44},
{"t":50464,"h":0.29},{"t":50464.7,"h":0.34},{"t":50465.3,"h":0.4},
{"t":50466,"h":0.32},{"t":50466.7,"h":0.38},{"t":50467.3,"h":0.42},
{"t":50468,"h":0.36},{"t":50468.7,"h":0.39},{"t":50469.3,"h":0.46},
{"t":50470,"h":0.36},{"t":50470.7,"h":0.44},{"t":50471.3,"h":0.46},
{"t":50472,"h":0.38},{"t":50472.7,"h":0.43},{"t":50473.3,"h":0.49},
{"t":50474,"h":0.39},{"t":50474.7,"h":0.45},{"t":50475.3,"h":0.49},
{"t":50476,"h":0.4},{"t":50476.7,"h":0.43},{"t":50477.3,"h":0.5},
{"t":50478,"h":0.39},{"t":50478.7,"h":0.47},{"t":50479.3,"h":0.49},
{"t":50480,"h":0.4},{"t":50480.7,"h":0.45},{"t":50481.3,"h":0.51},
{"t":50482,"h":0.41},{"t":50482.7,"h":0.47},{"t":50483.3,"h":0.51},
{"t":50484,"h":0.42},{"t":50484.7,"h":0.45},{"t":50485.3,"h":0.52},
{"t":50486,"h":0.41},{"t":50486.7,"h":0.49},{"t":50487.3,"h":0.51},
{"t":50488,"h":0.42},{"t":50488.7,"h":0.47},{"t":50489.3,"h":0.53},
{"t":50490,"h":0.42},{"t":50490.7,"h":0.48},{"t":50491.3,"h":0.52},
{"t":50492,"h":0.44},{"t":50492.7,"h":0.47},{"t":50493.3,"h":0.54},
{"t":50494,"h":0.42},{"t":50494.7,"h":0.5},{"t":50495.3,"h":0.52},
{"t":50496,"h":0.44},{"t":50496.7,"h":0.49},{"t":50497.3,"h":0.55},
{"t":50498,"h":0.44},{"t":50498.7,"h":0.5},{"t":50499.3,"h":0.54},
{"t":50500,"h":0.46},{"t":50500.7,"h":0.49},{"t":50501.3,"h":0.56},
{"t":50502,"h":0.44},{"t":50502.7,"h":0.52},{"t":50503.3,"h":0.54},
{"t":50504,"h":0.45},{"t":50504.7,"h":0.5},{"t":50505.3,"h":0.56},
{"t":50506,"h":0.46},{"t":50506.7,"h":0.52},{"t":50507.3,"h":0.56},
{"t":50508,"h":0.47},{"t":50508.7,"h":0.5},{"t":50509.3,"h":0.57},
{"t":50510,"h":0.46},{"t":50510.7,"h":0.54},{"t":50511.3,"h":0.56},
{"t":50512,"h":0.47},{"t":50512.7,"h":0.52},{"t":50513.3,"h":0.58},
{"t":50514,"h":0.47},{"t":50514.7,"h":0.53},{"t":50515.3,"h":0.57},
{"t":50516,"h":0.49},{"t":50516.7,"h":0.52},{"t":50517.3,"h":0.59},
{"t":50518,"h":0.47},{"t":50518.7,"h":0.55},{"t":50519.3,"h":0.57},
{"t":50520,"h":0.48},{"t":50520.7,"h":0.53},{"t":50521.3,"h":0.59},
{"t":50522,"h":0.49},{"t":50522.7,"h":0.55},{"t":50523.3,"h":0.59},
{"t":50524,"h":0.5},{"t":50524.7,"h":0.53},{"t":50525.3,"h":0.6},
{"t":50526,"h":0.48},{"t":50526.7,"h":0.56},{"t":50527.3,"h":0.58},
{"t":50528,"h":0.5},{"t":50528.7,"h":0.55},{"t":50529.3,"h":0.61},
{"t":50530,"h":0.5},{"t":50530.7,"h":0.56},{"t":50531.3,"h":0.6},
{"t":50532,"h":0.51},{"t":50532.7,"h":0.54},{"t":50533.3,"h":0.61},
{"t":50534,"h":0.5},{"t":50534.7,"h":0.58},{"t":50535.3,"h":0.6},
{"t":50536,"h":0.51},{"t":50536.7,"h":0.56},{"t":50537.3,"h":0.62},
{"t":50538,"h":0.51},{"t":50538.7,"h":0.57},{"t":50539.3,"h":0.61},
{"t":50540,"h":0.53},{"t":50540.7,"h":0.56},{"t":50541.3,"h":0.63},
{"t":50542,"h":0.51},{"t":50542.7,"h":0.59},{"t":50543.3,"h":0.61},
{"t":50544,"h":0.52},{"t":50544.7,"h":0.57},{"t":50545.3,"h":0.63},
{"t":50546,"h":0.53},{"t":50546.7,"h":0.59},{"t":50547.3,"h":0.63},
{"t":50548,"h":0.54},{"t":50548.7,"h":0.57},{"t":50549.3,"h":0.64},
{"t":50550,"h":0.52},{"t":50550.7,"h":0.6},{"t":50551.3,"h":0.62},
{"t":50552,"h":0.54},{"t":50552.7,"h":0.59},{"t":50553.3,"h":0.65},
{"t":50554,"h":0.54},{"t":50554.7,"h":0.6},{"t":50555.3,"h":0.64},
{"t":50556,"h":0.55},{"t":50556.7,"h":0.58},{"t":50557.3,"h":0.65},
{"t":50558,"h":0.54},{"t":50558.7,"h":0.62},{"t":50559.3,"h":0.64},
{"t":50560,"h":0.55},{"t":50560.7,"h":0.6},{"t":50561.3,"h":0.66},
{"t":50562,"h":0.55},{"t":50562.7,"h":0.61},{"t":50563.3,"h":0.65},
{"t":50564,"h":0.57},{"t":50564.7,"h":0.6},{"t":50565.3,"h":0.67},
{"t":50566,"h":0.55},{"t":50566.7,"h":0.63},{"t":50567.3,"h":0.65},
{"t":50568,"h":0.57},{"t":50568.7,"h":0.62},{"t":50569.3,"h":0.68},
{"t":50570,"h":0.57},{"t":50570.7,"h":0.63},{"t":50571.3,"h":0.67},
{"t":50572,"h":0.59},{"t":50572.7,"h":0.62},{"t":50573.3,"h":0.69},
{"t":50574,"h":0.57},{"t":50574.7,"h":0.65},{"t":50575.3,"h":0.67},
{"t":50576,"h":0.59},{"t":50576.7,"h":0.64},{"t":50577.3,"h":0.7},
{"t":50578,"h":0.59},{"t":50578.7,"h":0.65},{"t":50579.3,"h":0.69},
{"t":50580,"h":0.61},{"t":50580.7,"h":0.64},{"t":50581.3,"h":0.71},
{"t":50582,"h":0.59},{"t":50582.7,"h":0.67},{"t":50583.3,"h":0.69},
{"t":50584,"h":0.6},{"t":50584.7,"h":0.65},{"t":50585.3,"h":0.71},
{"t":50586,"h":0.61},{"t":50586.7,"h":0.67},{"t":50587.3,"h":0.71},
{"t":50588,"h":0.62},{"t":50588.7,"h":0.65},{"t":50589.3,"h":0.72},
{"t":50590,"h":0.6},{"t":50590.7,"h":0.68},{"t":50591.3,"h":0.7},
{"t":50592,"h":0.62},{"t":50592.7,"h":0.67},{"t":50593.3,"h":0.73},
{"t":50594,"h":0.62},{"t":50594.7,"h":0.68},{"t":50595.3,"h":0.72},
{"t":50596,"h":0.64},{"t":50596.7,"h":0.67},{"t":50597.3,"h":0.74},
{"t":50598,"h":0.64},{"t":50598.7,"h":0.72},{"t":50599.3,"h":0.74},
{"t":50600,"h":0.69},{"t":50600.7,"h":0.74},{"t":50601.3,"h":0.8},
{"t":50602,"h":0.67},{"t":50602.7,"h":0.73},{"t":50603.3,"h":0.77},
{"t":50604,"h":0.62},{"t":50604.7,"h":0.65},{"t":50605.3,"h":0.72},
{"t":50606,"h":0.56},{"t":50606.7,"h":0.64},{"t":50607.3,"h":0.66},
{"t":50608,"h":0.55},{"t":50608.7,"h":0.6},{"t":50609.3,"h":0.66},
{"t":50610,"h":0.54},{"t":50610.7,"h":0.6},{"t":50611.3,"h":0.64},
{"t":50612,"h":0.54},{"t":50612.7,"h":0.57},{"t":50613.3,"h":0.64},
{"t":50614,"h":0.52},{"t":50614.7,"h":0.6},{"t":50615.3,"h":0.62},
{"t":50616,"h":0.52},{"t":50616.7,"h":0.57},{"t":50617.3,"h":0.63},
{"t":50618,"h":0.52},{"t":50618.7,"h":0.58},{"t":50619.3,"h":0.62},
{"t":50620,"h":0.52},{"t":50620.7,"h":0.55},{"t":50621.3,"h":0.62},
{"t":50622,"h":0.5},{"t":50622.7,"h":0.58},{"t":50623.3,"h":0.6},
{"t":50624,"h":0.51},{"t":50624.7,"h":0.56},{"t":50625.3,"h":0.62},
{"t":50626,"h":0.5},{"t":50626.7,"h":0.56},{"t":50627.3,"h":0.6},
{"t":50628,"h":0.51},{"t":50628.7,"h":0.54},{"t":50629.3,"h":0.61},
{"t":50630,"h":0.49},{"t":50630.7,"h":0.57},{"t":50631.3,"h":0.59},
{"t":50632,"h":0.49},{"t":50632.7,"h":0.54},{"t":50633.3,"h":0.6},
{"t":50634,"h":0.45},{"t":50634.7,"h":0.51},{"t":50635.3,"h":0.55},
{"t":50636,"h":0.38},{"t":50636.7,"h":0.41},{"t":50637.3,"h":0.48},
{"t":50638,"h":0.44},{"t":50638.7,"h":0.52},{"t":50639.3,"h":0.54},
{"t":50640,"h":0.49},{"t":50640.7,"h":0.54},{"t":50641.3,"h":0.6},
{"t":50642,"h":0.49},{"t":50642.7,"h":0.55},{"t":50643.3,"h":0.59},
{"t":50644,"h":0.49},{"t":50644.7,"h":0.52},{"t":50645.3,"h":0.59},
{"t":50646,"h":0.47},{"t":50646.7,"h":0.55},{"t":50647.3,"h":0.57},
{"t":50648,"h":0.47},{"t":50648.7,"h":0.52},{"t":50649.3,"h":0.58},
{"t":50650,"h":0.47},{"t":50650.7,"h":0.53},{"t":50651.3,"h":0.57},
{"t":50652,"h":0.47},{"t":50652.7,"h":0.5},{"t":50653.3,"h":0.57},
{"t":50654,"h":0.44},{"t":50654.7,"h":0.52},{"t":50655.3,"h":0.54},
{"t":50656,"h":0.43},{"t":50656.7,"h":0.48},{"t":50657.3,"h":0.54},
{"t":50658,"h":0.41},{"t":50658.7,"h":0.47},{"t":50659.3,"h":0.51},
{"t":50660,"h":0.39},{"t":50660.7,"h":0.42},{"t":50661.3,"h":0.49},
{"t":50662,"h":0.34},{"t":50662.7,"h":0.42},{"t":50663.3,"h":0.44},
{"t":50664,"h":0.3},{"t":50664.7,"h":0.35},{"t":50665.3,"h":0.41},
{"t":50666,"h":0.25},{"t":50666.7,"h":0.31},{"t":50667.3,"h":0.35},
{"t":50668,"h":0.2},{"t":50668.7,"h":0.23},{"t":50669.3,"h":0.3},
{"t":50669.6,"h":0.17},{"t":50670,"h":0.21},
{"t":50674,"h":1.88},{"t":50674,"h":1.78},{"t":50674,"h":1.6},{"t":50674,"h":1.5},{"t":50674,"h":1.4},{"t":50674,"h":1.3},{"t":50674,"h":1.2},{"t":50674,"h":1.1},{"t":50674,"h":1.0},{"t":50674,"h":0.9},{"t":50674,"h":0.8},{"t":50674,"h":0.7},{"t":50674,"h":0.62}
]
},
"vconcat": [
{
"width": 605, "height": 334,
"layer": [
{"data": {"values": [{}]}, "mark": {"type": "rule", "color": "#888", "strokeWidth": 2},
 "encoding": {"y": {"datum": 0, "type": "quantitative", "axis": null}}},
{"data": {"name": "asm"}, "mark": {"type": "square", "size": 22, "color": "#000", "opacity": 0.9},
 "encoding": {
  "x": {"field": "t", "type": "quantitative", "scale": {"domain": [50150, 50800], "nice": false, "zero": false},
        "axis": {"orient": "bottom", "values": [50150,50200,50250,50300,50350,50400,50450,50500,50550,50600,50650,50700,50750,50800], "tickSize": -10, "labels": false, "title": null}},
  "y": {"field": "c", "type": "quantitative", "scale": {"domain": [-6, 300], "nice": false, "zero": false},
        "axis": {"orient": "left", "values": [0,20,40,60,80,100,120,140,160,180,200,220,240,260,280,300], "tickSize": -9, "labels": false, "title": null}}
 }},
{"data": {"name": "asm"}, "transform": [{"filter": "datum.t == 50151"}], "mark": {"type": "point", "opacity": 0},
 "encoding": {
  "x": {"field": "t", "type": "quantitative", "axis": {"orient": "bottom", "values": [50200,50400,50600,50800], "tickSize": -18, "labels": false, "title": null}},
  "y": {"field": "c", "type": "quantitative", "axis": {"orient": "left", "values": [0,100,200,300], "tickSize": -18, "format": "d", "labelPadding": 36, "labelOverlap": false, "title": "ASM c/s", "titlePadding": 22}}
 }},
{"data": {"name": "asm"}, "transform": [{"filter": "datum.t == 50151"}], "mark": {"type": "point", "opacity": 0},
 "encoding": {
  "x": {"field": "t", "type": "quantitative", "axis": {"orient": "top", "values": [50150,50200,50250,50300,50350,50400,50450,50500,50550,50600,50650,50700,50750,50800], "tickSize": -11, "labels": false, "title": null}},
  "y": {"field": "c", "type": "quantitative", "axis": {"orient": "right", "values": [0,20,40,60,80,100,120,140,160,180,200,220,240,260,280,300], "tickSize": -10, "labels": false, "title": null}}
 }},
{"data": {"name": "asm"}, "transform": [{"filter": "datum.t == 50151"}], "mark": {"type": "point", "opacity": 0},
 "encoding": {
  "x": {"field": "t", "type": "quantitative", "axis": {"orient": "top", "values": [50200,50400,50600,50800], "tickSize": -19, "labels": false, "title": null}},
  "y": {"field": "c", "type": "quantitative", "axis": {"orient": "right", "values": [0,100,200,300], "tickSize": -20, "labels": false, "title": null}}
 }},
{"data": {"values": [{}]}, "mark": {"type": "text", "font": "DejaVu Sans", "fontSize": 34, "color": "#666", "align": "center", "baseline": "middle"},
 "encoding": {"x": {"datum": 50475, "type": "quantitative", "axis": null}, "y": {"datum": 269, "type": "quantitative", "axis": null}, "text": {"value": "GRO J1655-40"}}},
{"data": {"values": [{}]}, "mark": {"type": "text", "font": "Liberation Sans", "fontStyle": "italic", "fontSize": 32, "color": "#000", "align": "center", "baseline": "alphabetic"},
 "encoding": {"x": {"datum": 50607, "type": "quantitative", "axis": null}, "y": {"datum": 213, "type": "quantitative", "axis": null}, "text": {"value": "Remillard et al. 99"}}}
],
"resolve": {"axis": {"x": "independent", "y": "independent"}}
},
{
"width": 605, "height": 110,
"layer": [
{"data": {"name": "hr"}, "mark": {"type": "square", "size": 22, "color": "#000", "opacity": 0.9},
 "encoding": {
  "x": {"field": "t", "type": "quantitative", "scale": {"domain": [50150, 50800], "nice": false, "zero": false},
        "axis": {"orient": "bottom", "values": [50150,50200,50250,50300,50350,50400,50450,50500,50550,50600,50650,50700,50750,50800], "tickSize": -10, "labels": false, "title": null}},
  "y": {"field": "h", "type": "quantitative", "scale": {"domain": [0, 1.95], "nice": false, "zero": false},
        "axis": {"orient": "left", "values": [0.1667,0.3333,0.5,0.6667,0.8333,1,1.1667,1.3333,1.5,1.6667,1.8333], "tickSize": -8, "labels": false, "title": null}}
 }},
{"data": {"name": "hr"}, "transform": [{"filter": "datum.t == 50198"}], "mark": {"type": "point", "opacity": 0},
 "encoding": {
  "x": {"field": "t", "type": "quantitative", "axis": {"orient": "bottom", "values": [50200,50400,50600,50800], "tickSize": -17, "format": "d", "labelPadding": 33, "labelOverlap": false, "title": null}},
  "y": {"field": "h", "type": "quantitative", "axis": {"orient": "left", "values": [0.5,1,1.5], "tickSize": -14, "format": "~g", "labelPadding": 32, "labelFontSize": 26, "labelOverlap": false, "title": "HR2", "titlePadding": 26, "titleFontSize": 31}}
 }},
{"data": {"name": "hr"}, "transform": [{"filter": "datum.t == 50198"}], "mark": {"type": "point", "opacity": 0},
 "encoding": {
  "x": {"field": "t", "type": "quantitative", "axis": {"orient": "top", "values": [50150,50200,50250,50300,50350,50400,50450,50500,50550,50600,50650,50700,50750,50800], "tickSize": -10, "labels": false, "title": null}},
  "y": {"field": "h", "type": "quantitative", "axis": {"orient": "right", "values": [0.1667,0.3333,0.5,0.6667,0.8333,1,1.1667,1.3333,1.5,1.6667,1.8333], "tickSize": -8, "labels": false, "title": null}}
 }},
{"data": {"name": "hr"}, "transform": [{"filter": "datum.t == 50198"}], "mark": {"type": "point", "opacity": 0},
 "encoding": {
  "x": {"field": "t", "type": "quantitative", "axis": {"orient": "top", "values": [50200,50400,50600,50800], "tickSize": -18, "labels": false, "title": null}},
  "y": {"field": "h", "type": "quantitative", "axis": {"orient": "right", "values": [0.5,1,1.5], "tickSize": -14, "labels": false, "title": null}}
 }},
{"data": {"name": "years"}, "mark": {"type": "rule", "color": "#999", "strokeWidth": 1.5},
 "encoding": {"x": {"field": "mjd", "type": "quantitative", "axis": null}, "y": {"datum": -0.68, "type": "quantitative", "axis": null}, "y2": {"datum": -0.99}}},
{"data": {"name": "years"}, "mark": {"type": "text", "font": "DejaVu Sans", "fontSize": 28, "color": "#666", "align": "center", "baseline": "middle"},
 "encoding": {"x": {"field": "mjd", "type": "quantitative", "axis": null}, "y": {"datum": -1.25, "type": "quantitative", "axis": null}, "text": {"field": "label"}}}
],
"resolve": {"axis": {"x": "independent", "y": "independent"}}
}
],
"config": {
 "view": {"stroke": "#999", "strokeWidth": 2},
 "axis": {"domain": false, "grid": false, "tickColor": "#999", "tickWidth": 2, "labelFont": "DejaVu Sans", "labelFontSize": 32, "labelColor": "#666", "titleFont": "DejaVu Sans", "titleFontSize": 33, "titleFontWeight": "normal", "titleColor": "#666"}
}
}
